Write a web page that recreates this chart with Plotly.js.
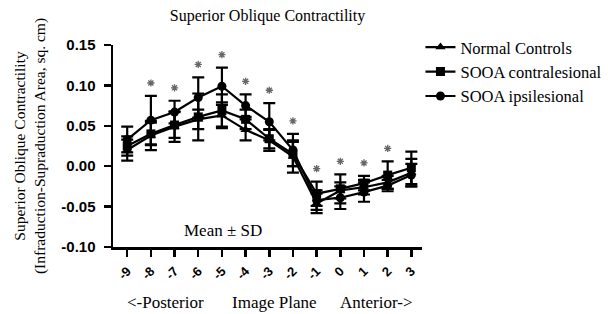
<!DOCTYPE html>
<html>
<head>
<meta charset="utf-8">
<script src="https://cdn.plot.ly/plotly-3.0.1.min.js"></script>
<style>html,body{margin:0;padding:0;background:#fff;}#chart{width:608px;height:314px;}</style>
</head>
<body>
<div id="chart"></div>
<script>
const planes = [-9, -8, -7, -6, -5, -4, -3, -2, -1, 0, 1, 2, 3];
const tickLabels = ["-9","-8","-7","-6","-5","-4","-3","-2","-1","0","1","2","3"];
const normalMean = [0.020, 0.038, 0.049, 0.058, 0.063, 0.045, 0.032, 0.012, -0.046, -0.030, -0.026, -0.020, -0.008];
const normalSD   = [0.013, 0.018, 0.019, 0.012, 0.016, 0.013, 0.013, 0.020, 0.012, 0.010, 0.009, 0.008, 0.017];
const contraMean = [0.025, 0.040, 0.051, 0.061, 0.069, 0.058, 0.034, 0.015, -0.034, -0.028, -0.021, -0.011, -0.002];
const contraSD   = [0.012, 0.014, 0.016, 0.029, 0.020, 0.012, 0.012, 0.015, 0.015, 0.018, 0.009, 0.017, 0.020];
const ipsiMean   = [0.033, 0.057, 0.067, 0.085, 0.099, 0.075, 0.055, 0.020, -0.042, -0.039, -0.032, -0.024, -0.011];
const ipsiSD     = [0.016, 0.030, 0.014, 0.025, 0.023, 0.014, 0.023, 0.020, 0.012, 0.014, 0.012, 0.007, 0.014];
const sigPlanes  = [-8, -7, -6, -5, -4, -3, -2, -1, 0, 1, 2];

function series(name, mean, sd, symbol) {
  return {
    x: planes, y: mean, name: name, type: 'scatter', mode: 'lines+markers',
    line: {color: '#000', width: 2.2},
    marker: {symbol: symbol, size: 9, color: '#000'},
    error_y: {type: 'data', array: sd, visible: true, color: '#000', thickness: 2.2, width: 6}
  };
}
const sigY = sigPlanes.map(p => {
  const i = planes.indexOf(p);
  return Math.max(normalMean[i] + normalSD[i], contraMean[i] + contraSD[i], ipsiMean[i] + ipsiSD[i]) + 0.016;
});
const traces = [
  series('Normal Controls', normalMean, normalSD, 'triangle-up'),
  series('SOOA contralesional', contraMean, contraSD, 'square'),
  series('SOOA ipsilesional', ipsiMean, ipsiSD, 'circle'),
  {x: sigPlanes, y: sigY, mode: 'markers', type: 'scatter',
   marker: {symbol: 'asterisk-open', size: 6, color: '#666', line: {color: '#666', width: 1.3}},
   showlegend: false, hoverinfo: 'skip', cliponaxis: false}
];
const serif = 'Liberation Serif';
const layout = {
  width: 608, height: 314,
  margin: {l: 113, r: 186, t: 45, b: 67, autoexpand: false},
  paper_bgcolor: '#fff', plot_bgcolor: '#fff',
  title: {text: 'Superior Oblique Contractility', font: {family: serif, size: 16, color: '#000'},
          x: 0.5, xref: 'paper', y: 0.95, yref: 'container', yanchor: 'middle'},
  showlegend: true,
  legend: {x: 0.995, xanchor: 'left', y: 1.075, yanchor: 'top', font: {family: serif, size: 16.5, color: '#000'},
           bgcolor: 'rgba(0,0,0,0)', tracegroupgap: 0, itemwidth: 30},
  xaxis: {
    range: [-9.6, 3.45], tickmode: 'array', tickvals: planes, ticktext: tickLabels,
    tickangle: -45, showgrid: false, zeroline: false, showline: true, linecolor: '#000', linewidth: 2.5,
    ticks: 'outside', ticklen: 7, tickwidth: 2.5, tickcolor: '#000', ticklabelstandoff: 2,
    tickfont: {family: 'Liberation Sans', size: 13, color: '#000', weight: 'bold'}
  },
  yaxis: {
    range: [-0.1, 0.15], tickvals: [-0.10, -0.05, 0, 0.05, 0.10, 0.15],
    ticktext: ['-0.10', '-0.05', '0.00', '0.05', '0.10', '0.15'],
    showgrid: false, zeroline: false, showline: true, linecolor: '#000', linewidth: 2.5,
    ticks: 'outside', ticklen: 7, tickwidth: 2.5, tickcolor: '#000', ticklabelstandoff: 5,
    tickfont: {family: 'Liberation Sans', size: 15, color: '#000', weight: 'bold'},
    title: {text: 'Superior Oblique Contractility<br>(Infraduction-Supraduction Area, sq. cm)',
            font: {family: serif, size: 15.5, color: '#000'}, standoff: 12}
  },
  annotations: [
    {text: 'Mean ± SD', x: (223 - 113) / 309, y: (247 - 230) / 202},
    {text: '&lt;-Posterior', x: (165 - 113) / 309, y: -(302 - 247) / 202},
    {text: 'Image Plane', x: (274 - 113) / 309, y: -(302 - 247) / 202},
    {text: 'Anterior-&gt;', x: (376 - 113) / 309, y: -(302 - 247) / 202}
  ].map(a => Object.assign({font: {family: serif, size: 17, color: '#000'}, xref: 'paper', yref: 'paper',
                            xanchor: 'center', yanchor: 'middle', showarrow: false}, a))
};
Plotly.newPlot('chart', traces, layout, {displayModeBar: false, staticPlot: true});
</script>
</body>
</html>
